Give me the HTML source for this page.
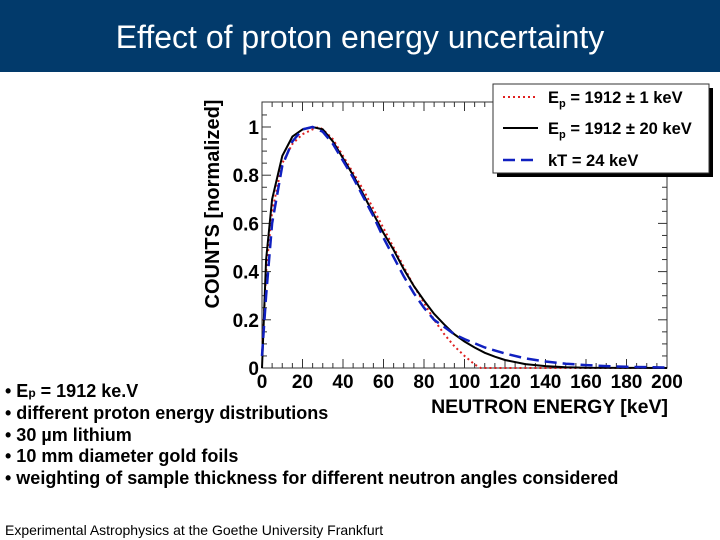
<!DOCTYPE html>
<html><head><meta charset="utf-8"><style>
body{margin:0;width:720px;height:540px;background:#fff;font-family:"Liberation Sans",sans-serif;position:relative;overflow:hidden}
#hdr{position:absolute;left:0;top:0;width:720px;height:72px;background:#023a6b;color:#fff;font-size:32px;text-align:center;line-height:74px}
.b{position:absolute;left:5px;font-size:18px;font-weight:bold;color:#000}
#foot{position:absolute;left:5px;top:522px;font-size:14px}
svg{position:absolute;left:0;top:0}
</style></head><body>
<div id="hdr">Effect of proton energy uncertainty</div>
<svg id="chart" width="720" height="540"></svg>
<div class="b" style="top:381px">• E<span style="font-size:12px">p</span> = 1912 ke.V</div>
<div class="b" style="top:403px">• different proton energy distributions</div>
<div class="b" style="top:425px">• 30 µm lithium</div>
<div class="b" style="top:446px">• 10 mm diameter gold foils</div>
<div class="b" style="top:468px">• weighting of sample thickness for different neutron angles considered</div>
<div id="foot">Experimental Astrophysics at the Goethe University Frankfurt</div>
<script>
const xTicks=[0,20,40,60,80,100,120,140,160,180,200];
const yTicks=[0,0.2,0.4,0.6,0.8,1];
const yTickLabels=["0","0.2","0.4","0.6","0.8","1"];
const redX=[0,2,5,10,15,20,25,28,30,35,40,45,50,55,60,65,70,75,80,85,90,95,100,105,108,200];
const redY=[0.05,0.4,0.65,0.85,0.93,0.97,0.99,1.0,0.99,0.95,0.88,0.81,0.74,0.66,0.58,0.5,0.42,0.34,0.27,0.2,0.14,0.09,0.05,0.015,0,0];
const blackX=[0,2,5,10,15,20,25,30,35,40,45,50,55,60,65,70,75,80,85,90,95,100,105,110,115,120,130,140,150,160,200];
const blackY=[0,0.45,0.7,0.88,0.96,0.99,1.0,0.99,0.94,0.87,0.8,0.72,0.64,0.56,0.49,0.41,0.34,0.28,0.225,0.18,0.14,0.11,0.085,0.063,0.047,0.033,0.016,0.008,0.003,0.001,0];
const blueX=[0,2,5,10,15,20,25,30,35,40,45,50,55,60,65,70,75,80,85,90,95,100,110,120,130,140,150,160,170,180,200];
const blueY=[0.05,0.3,0.6,0.84,0.94,0.99,1.0,0.98,0.93,0.86,0.79,0.71,0.63,0.54,0.46,0.38,0.31,0.25,0.2,0.17,0.14,0.12,0.085,0.06,0.04,0.027,0.018,0.012,0.008,0.005,0.002];
const L=262,R=667,B=368,T=102;
const sx=v=>L+(R-L)*v/200;
const sy=v=>B-241*v;
const svg=document.getElementById('chart');const NS='http://www.w3.org/2000/svg';
function mk(t,a,p){const e=document.createElementNS(NS,t);for(const k in a)e.setAttribute(k,a[k]);(p||svg).appendChild(e);return e;}
let f=mk('rect',{x:L,y:T,width:R-L,height:B-T,fill:'none',stroke:'#333','stroke-width':1});


for(let v=0;v<=200;v+=5){const maj=v%20==0,len=maj?9:5;
mk('line',{x1:sx(v),x2:sx(v),y1:B,y2:B-len,stroke:'#333'});mk('line',{x1:sx(v),x2:sx(v),y1:T,y2:T+len,stroke:'#333'});}
for(let v=0;v<=1.1;v+=0.05){const m=Math.abs(v*5-Math.round(v*5))<1e-6,len=m?9:5;
mk('line',{x1:L,x2:L+len,y1:sy(v),y2:sy(v),stroke:'#333'});mk('line',{x1:R,x2:R-len,y1:sy(v),y2:sy(v),stroke:'#333'});}
xTicks.forEach(v=>{const t=mk('text',{x:sx(v),y:388,'text-anchor':'middle','font-size':19,'font-weight':'bold'});t.textContent=v;

});
yTicks.forEach((v,i)=>{const t=mk('text',{x:259,y:sy(v)+7,'text-anchor':'end','font-size':19,'font-weight':'bold'});t.textContent=yTickLabels[i];

});
let xt=mk('text',{x:668,y:413,'text-anchor':'end','font-size':19.5,'font-weight':'bold'});xt.textContent='NEUTRON ENERGY [keV]';


let yt=mk('text',{x:219,y:204,'text-anchor':'middle','font-size':20,'font-weight':'bold',transform:'rotate(-90 219 204)'});yt.textContent='COUNTS [normalized]';


function line(xs,ys,st,name){const d=xs.map((x,i)=>(i?'L':'M')+sx(x).toFixed(1)+','+sy(ys[i]).toFixed(1)).join('');
const p=mk('path',Object.assign({d:d,fill:'none'},st));
}
line(redX,redY,{stroke:'#e02020','stroke-width':2,'stroke-dasharray':'2 3'},'series-ep-1kev');
line(blackX,blackY,{stroke:'#000','stroke-width':2},'series-ep-20kev');
line(blueX,blueY,{stroke:'#1020c0','stroke-width':2.5,'stroke-dasharray':'12 6'},'series-kt-24kev');
const lg=mk('g',{});

mk('rect',{x:497,y:88,width:216,height:89,fill:'#000'},lg);
mk('rect',{x:493,y:84,width:216,height:89,fill:'#fff',stroke:'#333'},lg);
const items=[['E','p',' = 1912 ± 1 keV',{stroke:'#e02020','stroke-width':2,'stroke-dasharray':'2 3'}],['E','p',' = 1912 ± 20 keV',{stroke:'#000','stroke-width':2}],['kT = 24 keV','','',{stroke:'#1020c0','stroke-width':2.5,'stroke-dasharray':'12 6'}]];
[97,128,160].forEach((y,i)=>{const it=items[i];mk('line',Object.assign({x1:503,x2:538,y1:y,y2:y},it[3]),lg);
const t=mk('text',{x:548,y:y+6,'font-size':16.5,'font-weight':'bold'},lg);t.textContent=it[0];


if(it[1]){const s=mk('tspan',{'font-size':11,dy:4},t);s.textContent=it[1];const s2=mk('tspan',{dy:-4},t);s2.textContent=it[2];}});
</script>
</body></html>
